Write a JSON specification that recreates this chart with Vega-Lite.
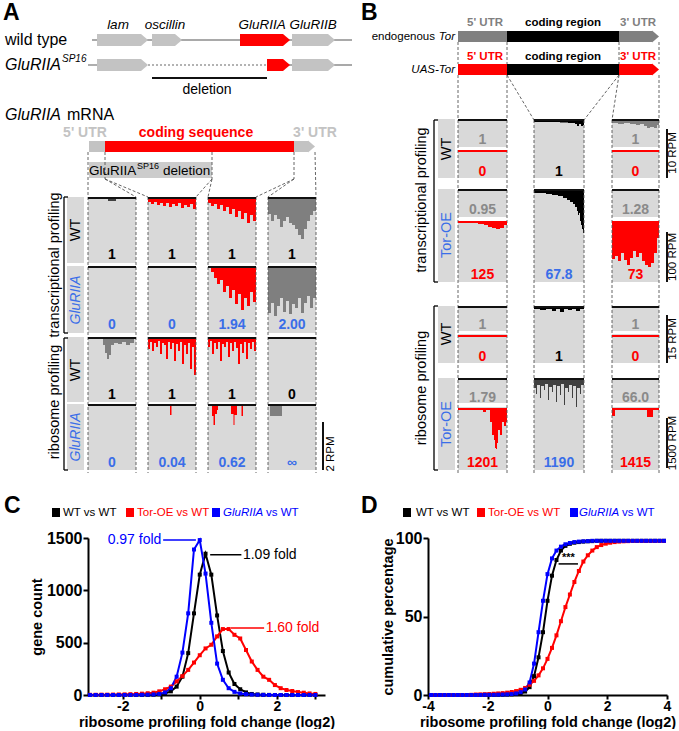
{
"$schema": "https://vega.github.io/schema/vega-lite/v6.json",
"padding": 0,
"background": "white",
"config": {
  "view": {"stroke": null},
  "font": "Liberation Sans",
  "axis": {"domainColor": "#000", "domainWidth": 2, "tickColor": "#000", "tickWidth": 2, "tickSize": 5, "grid": false,
    "labelFont": "Liberation Sans", "labelFontSize": 16, "labelFontWeight": "bold", "labelColor": "#000", "labelPadding": 1,
    "titleFont": "Liberation Sans", "titleFontSize": 14.5, "titleFontWeight": "bold", "titleColor": "#000"}
},
"datasets": {
  "shapes": [
    {"x":97,"x2":141,"y":34,"y2":46,"part":"gene"},
    {"x":152,"x2":175,"y":34,"y2":46,"part":"gene"},
    {"x":240,"x2":283,"y":34,"y2":46,"part":"mutgene"},
    {"x":292,"x2":328,"y":34,"y2":46,"part":"gene"},
    {"x":97,"x2":141,"y":59,"y2":71,"part":"gene"},
    {"x":267,"x2":283,"y":59,"y2":71,"part":"mutgene"},
    {"x":292,"x2":328,"y":59,"y2":71,"part":"gene"},
    {"x":89,"x2":105,"y":141,"y2":152,"part":"utr"},
    {"x":105,"x2":294,"y":141,"y2":152,"part":"cds"},
    {"x":294,"x2":308,"y":141,"y2":152,"part":"utr"},
    {"x":89,"x2":212,"y":162,"y2":178,"part":"delbox"},
    {"x":458,"x2":507,"y":31,"y2":42,"part":"torutr"},
    {"x":507,"x2":619,"y":31,"y2":42,"part":"torcds"},
    {"x":619,"x2":652,"y":31,"y2":42,"part":"torutr"},
    {"x":458,"x2":507,"y":64,"y2":75,"part":"uasutr"},
    {"x":507,"x2":619,"y":64,"y2":75,"part":"torcds"},
    {"x":619,"x2":652,"y":64,"y2":75,"part":"uasutr"},
    {"x":88,"x2":136,"y":197,"y2":263,"part":"cell"},
    {"x":148,"x2":196,"y":197,"y2":263,"part":"cell"},
    {"x":208,"x2":256,"y":197,"y2":263,"part":"cell"},
    {"x":268,"x2":316,"y":197,"y2":263,"part":"cell"},
    {"x":88,"x2":136,"y":266,"y2":333,"part":"cell"},
    {"x":148,"x2":196,"y":266,"y2":333,"part":"cell"},
    {"x":208,"x2":256,"y":266,"y2":333,"part":"cell"},
    {"x":268,"x2":316,"y":266,"y2":333,"part":"cell"},
    {"x":88,"x2":136,"y":337,"y2":402,"part":"cell"},
    {"x":148,"x2":196,"y":337,"y2":402,"part":"cell"},
    {"x":208,"x2":256,"y":337,"y2":402,"part":"cell"},
    {"x":268,"x2":316,"y":337,"y2":402,"part":"cell"},
    {"x":88,"x2":136,"y":404,"y2":470,"part":"cell"},
    {"x":148,"x2":196,"y":404,"y2":470,"part":"cell"},
    {"x":208,"x2":256,"y":404,"y2":470,"part":"cell"},
    {"x":268,"x2":316,"y":404,"y2":470,"part":"cell"},
    {"x":67,"x2":84,"y":197,"y2":263,"part":"rowlabel"},
    {"x":67,"x2":84,"y":266,"y2":333,"part":"rowlabel"},
    {"x":67,"x2":84,"y":337,"y2":402,"part":"rowlabel"},
    {"x":67,"x2":84,"y":404,"y2":470,"part":"rowlabel"},
    {"x":458,"x2":507,"y":119,"y2":178,"part":"cell"},
    {"x":534,"x2":584,"y":119,"y2":178,"part":"cell"},
    {"x":612,"x2":659,"y":119,"y2":178,"part":"cell"},
    {"x":458,"x2":507,"y":189,"y2":282,"part":"cell"},
    {"x":534,"x2":584,"y":189,"y2":282,"part":"cell"},
    {"x":612,"x2":659,"y":189,"y2":282,"part":"cell"},
    {"x":458,"x2":507,"y":306,"y2":363,"part":"cell"},
    {"x":534,"x2":584,"y":306,"y2":363,"part":"cell"},
    {"x":612,"x2":659,"y":306,"y2":363,"part":"cell"},
    {"x":458,"x2":507,"y":378,"y2":470,"part":"cell"},
    {"x":534,"x2":584,"y":378,"y2":470,"part":"cell"},
    {"x":612,"x2":659,"y":378,"y2":470,"part":"cell"},
    {"x":438,"x2":455,"y":119,"y2":178,"part":"rowlabel"},
    {"x":438,"x2":455,"y":189,"y2":282,"part":"rowlabel"},
    {"x":438,"x2":455,"y":306,"y2":363,"part":"rowlabel"},
    {"x":438,"x2":455,"y":378,"y2":470,"part":"rowlabel"},
    {"x":458,"x2":507,"y":147,"y2":150,"part":"gap"},
    {"x":612,"x2":659,"y":147,"y2":150,"part":"gap"},
    {"x":458,"x2":507,"y":217,"y2":221,"part":"gap"},
    {"x":612,"x2":659,"y":217,"y2":221,"part":"gap"},
    {"x":458,"x2":507,"y":331,"y2":334,"part":"gap"},
    {"x":612,"x2":659,"y":331,"y2":334,"part":"gap"},
    {"x":458,"x2":507,"y":403,"y2":407,"part":"gap"},
    {"x":612,"x2":659,"y":403,"y2":407,"part":"gap"},
    {"x":52,"x2":60,"y":508,"y2":517,"part":"wt"},
    {"x":126,"x2":134,"y":508,"y2":517,"part":"tor"},
    {"x":212,"x2":220,"y":508,"y2":517,"part":"glu"},
    {"x":403,"x2":411,"y":508,"y2":517,"part":"wt"},
    {"x":477,"x2":485,"y":508,"y2":517,"part":"tor"},
    {"x":570,"x2":578,"y":508,"y2":517,"part":"glu"}
  ],
  "tips": [
    {"x":141,"y":40,"part":"gene"},{"x":175,"y":40,"part":"gene"},{"x":283,"y":40,"part":"mutgene"},{"x":328,"y":40,"part":"gene"},
    {"x":141,"y":65,"part":"gene"},{"x":283,"y":65,"part":"mutgene"},{"x":328,"y":65,"part":"gene"},
    {"x":308,"y":146.5,"part":"utr"},{"x":652,"y":36.5,"part":"torutr"},{"x":652,"y":69.5,"part":"uasutr"}
  ],
  "cov": [
    {"id":"a11","part":"covdark","x":108,"y":199,"y2":201},{"id":"a11","part":"covdark","x":116,"y":199,"y2":201},
    {"id":"a12","part":"covred","x":148,"y":199,"y2":202},{"id":"a12","part":"covred","x":151,"y":199,"y2":204},{"id":"a12","part":"covred","x":154,"y":199,"y2":202},{"id":"a12","part":"covred","x":157,"y":199,"y2":205},{"id":"a12","part":"covred","x":160,"y":199,"y2":203},{"id":"a12","part":"covred","x":163,"y":199,"y2":206},{"id":"a12","part":"covred","x":166,"y":199,"y2":203},{"id":"a12","part":"covred","x":169,"y":199,"y2":207},{"id":"a12","part":"covred","x":172,"y":199,"y2":204},{"id":"a12","part":"covred","x":175,"y":199,"y2":206},{"id":"a12","part":"covred","x":178,"y":199,"y2":203},{"id":"a12","part":"covred","x":181,"y":199,"y2":208},{"id":"a12","part":"covred","x":184,"y":199,"y2":205},{"id":"a12","part":"covred","x":187,"y":199,"y2":207},{"id":"a12","part":"covred","x":190,"y":199,"y2":204},{"id":"a12","part":"covred","x":193,"y":199,"y2":209},{"id":"a12","part":"covred","x":196,"y":199,"y2":206},
    {"id":"a13","part":"covred","x":208,"y":199,"y2":203},{"id":"a13","part":"covred","x":211,"y":199,"y2":206},{"id":"a13","part":"covred","x":214,"y":199,"y2":204},{"id":"a13","part":"covred","x":217,"y":199,"y2":209},{"id":"a13","part":"covred","x":220,"y":199,"y2":205},{"id":"a13","part":"covred","x":223,"y":199,"y2":211},{"id":"a13","part":"covred","x":226,"y":199,"y2":207},{"id":"a13","part":"covred","x":229,"y":199,"y2":214},{"id":"a13","part":"covred","x":232,"y":199,"y2":209},{"id":"a13","part":"covred","x":235,"y":199,"y2":217},{"id":"a13","part":"covred","x":238,"y":199,"y2":211},{"id":"a13","part":"covred","x":241,"y":199,"y2":219},{"id":"a13","part":"covred","x":244,"y":199,"y2":213},{"id":"a13","part":"covred","x":247,"y":199,"y2":223},{"id":"a13","part":"covred","x":250,"y":199,"y2":215},{"id":"a13","part":"covred","x":253,"y":199,"y2":221},{"id":"a13","part":"covred","x":256,"y":199,"y2":209},
    {"id":"a14","part":"covgray","x":268,"y":199,"y2":214},{"id":"a14","part":"covgray","x":271,"y":199,"y2":221},{"id":"a14","part":"covgray","x":274,"y":199,"y2":215},{"id":"a14","part":"covgray","x":277,"y":199,"y2":219},{"id":"a14","part":"covgray","x":280,"y":199,"y2":227},{"id":"a14","part":"covgray","x":283,"y":199,"y2":221},{"id":"a14","part":"covgray","x":286,"y":199,"y2":217},{"id":"a14","part":"covgray","x":289,"y":199,"y2":223},{"id":"a14","part":"covgray","x":292,"y":199,"y2":225},{"id":"a14","part":"covgray","x":295,"y":199,"y2":229},{"id":"a14","part":"covgray","x":298,"y":199,"y2":235},{"id":"a14","part":"covgray","x":301,"y":199,"y2":239},{"id":"a14","part":"covgray","x":304,"y":199,"y2":229},{"id":"a14","part":"covgray","x":307,"y":199,"y2":221},{"id":"a14","part":"covgray","x":310,"y":199,"y2":215},{"id":"a14","part":"covgray","x":313,"y":199,"y2":211},{"id":"a14","part":"covgray","x":316,"y":199,"y2":207},
    {"id":"a23","part":"covred","x":208,"y":268,"y2":268},{"id":"a23","part":"covred","x":211,"y":268,"y2":272},{"id":"a23","part":"covred","x":214,"y":268,"y2":278},{"id":"a23","part":"covred","x":217,"y":268,"y2":284},{"id":"a23","part":"covred","x":220,"y":268,"y2":280},{"id":"a23","part":"covred","x":223,"y":268,"y2":292},{"id":"a23","part":"covred","x":226,"y":268,"y2":286},{"id":"a23","part":"covred","x":229,"y":268,"y2":298},{"id":"a23","part":"covred","x":232,"y":268,"y2":290},{"id":"a23","part":"covred","x":235,"y":268,"y2":304},{"id":"a23","part":"covred","x":238,"y":268,"y2":294},{"id":"a23","part":"covred","x":241,"y":268,"y2":310},{"id":"a23","part":"covred","x":244,"y":268,"y2":298},{"id":"a23","part":"covred","x":247,"y":268,"y2":306},{"id":"a23","part":"covred","x":250,"y":268,"y2":292},{"id":"a23","part":"covred","x":253,"y":268,"y2":302},{"id":"a23","part":"covred","x":256,"y":268,"y2":288},
    {"id":"a24","part":"covgray","x":268,"y":268,"y2":313},{"id":"a24","part":"covgray","x":271,"y":268,"y2":303},{"id":"a24","part":"covgray","x":274,"y":268,"y2":316},{"id":"a24","part":"covgray","x":277,"y":268,"y2":306},{"id":"a24","part":"covgray","x":280,"y":268,"y2":298},{"id":"a24","part":"covgray","x":283,"y":268,"y2":312},{"id":"a24","part":"covgray","x":286,"y":268,"y2":301},{"id":"a24","part":"covgray","x":289,"y":268,"y2":314},{"id":"a24","part":"covgray","x":292,"y":268,"y2":304},{"id":"a24","part":"covgray","x":295,"y":268,"y2":308},{"id":"a24","part":"covgray","x":298,"y":268,"y2":298},{"id":"a24","part":"covgray","x":301,"y":268,"y2":313},{"id":"a24","part":"covgray","x":304,"y":268,"y2":303},{"id":"a24","part":"covgray","x":307,"y":268,"y2":296},{"id":"a24","part":"covgray","x":310,"y":268,"y2":308},{"id":"a24","part":"covgray","x":313,"y":268,"y2":298},{"id":"a24","part":"covgray","x":316,"y":268,"y2":288},
    {"id":"a31","part":"covgray","x":103,"y":339,"y2":345},{"id":"a31","part":"covgray","x":105,"y":339,"y2":353},{"id":"a31","part":"covgray","x":107,"y":339,"y2":359},{"id":"a31","part":"covgray","x":109,"y":339,"y2":355},{"id":"a31","part":"covgray","x":111,"y":339,"y2":345},{"id":"a31","part":"covgray","x":114,"y":339,"y2":343},{"id":"a31","part":"covgray","x":118,"y":339,"y2":344},{"id":"a31","part":"covgray","x":122,"y":339,"y2":342},{"id":"a31","part":"covgray","x":126,"y":339,"y2":345},{"id":"a31","part":"covgray","x":130,"y":339,"y2":343},{"id":"a31","part":"covgray","x":134,"y":339,"y2":341},
    {"id":"a32","part":"covred","x":148,"y":339,"y2":349},{"id":"a32","part":"covred","x":150,"y":339,"y2":342},{"id":"a32","part":"covred","x":152,"y":339,"y2":351},{"id":"a32","part":"covred","x":154,"y":339,"y2":343},{"id":"a32","part":"covred","x":156,"y":339,"y2":347},{"id":"a32","part":"covred","x":158,"y":339,"y2":341},{"id":"a32","part":"covred","x":160,"y":339,"y2":354},{"id":"a32","part":"covred","x":162,"y":339,"y2":343},{"id":"a32","part":"covred","x":164,"y":339,"y2":345},{"id":"a32","part":"covred","x":166,"y":339,"y2":359},{"id":"a32","part":"covred","x":168,"y":339,"y2":342},{"id":"a32","part":"covred","x":170,"y":339,"y2":349},{"id":"a32","part":"covred","x":172,"y":339,"y2":343},{"id":"a32","part":"covred","x":174,"y":339,"y2":361},{"id":"a32","part":"covred","x":176,"y":339,"y2":344},{"id":"a32","part":"covred","x":178,"y":339,"y2":351},{"id":"a32","part":"covred","x":180,"y":339,"y2":342},{"id":"a32","part":"covred","x":182,"y":339,"y2":364},{"id":"a32","part":"covred","x":184,"y":339,"y2":345},{"id":"a32","part":"covred","x":186,"y":339,"y2":354},{"id":"a32","part":"covred","x":188,"y":339,"y2":343},{"id":"a32","part":"covred","x":190,"y":339,"y2":369},{"id":"a32","part":"covred","x":192,"y":339,"y2":347},{"id":"a32","part":"covred","x":194,"y":339,"y2":375},{"id":"a32","part":"covred","x":196,"y":339,"y2":349},
    {"id":"a33","part":"covred","x":208,"y":339,"y2":347},{"id":"a33","part":"covred","x":210,"y":339,"y2":341},{"id":"a33","part":"covred","x":212,"y":339,"y2":354},{"id":"a33","part":"covred","x":214,"y":339,"y2":343},{"id":"a33","part":"covred","x":216,"y":339,"y2":349},{"id":"a33","part":"covred","x":218,"y":339,"y2":342},{"id":"a33","part":"covred","x":220,"y":339,"y2":361},{"id":"a33","part":"covred","x":222,"y":339,"y2":344},{"id":"a33","part":"covred","x":224,"y":339,"y2":347},{"id":"a33","part":"covred","x":226,"y":339,"y2":342},{"id":"a33","part":"covred","x":228,"y":339,"y2":357},{"id":"a33","part":"covred","x":230,"y":339,"y2":343},{"id":"a33","part":"covred","x":232,"y":339,"y2":351},{"id":"a33","part":"covred","x":234,"y":339,"y2":342},{"id":"a33","part":"covred","x":236,"y":339,"y2":348},{"id":"a33","part":"covred","x":238,"y":339,"y2":364},{"id":"a33","part":"covred","x":240,"y":339,"y2":344},{"id":"a33","part":"covred","x":242,"y":339,"y2":353},{"id":"a33","part":"covred","x":244,"y":339,"y2":342},{"id":"a33","part":"covred","x":246,"y":339,"y2":359},{"id":"a33","part":"covred","x":248,"y":339,"y2":343},{"id":"a33","part":"covred","x":250,"y":339,"y2":349},{"id":"a33","part":"covred","x":252,"y":339,"y2":342},{"id":"a33","part":"covred","x":254,"y":339,"y2":351},{"id":"a33","part":"covred","x":256,"y":339,"y2":344},
    {"id":"a42","part":"covred","x":170,"y":406,"y2":415},{"id":"a42","part":"covred","x":171.5,"y":406,"y2":415},
    {"id":"a43a","part":"covred","x":212,"y":406,"y2":416},{"id":"a43a","part":"covred","x":213.5,"y":406,"y2":425},{"id":"a43a","part":"covred","x":215,"y":406,"y2":414},{"id":"a43a","part":"covred","x":217,"y":406,"y2":410},{"id":"a43a","part":"covred","x":218,"y":406,"y2":406},
    {"id":"a43b","part":"covred","x":231,"y":406,"y2":414},{"id":"a43b","part":"covred","x":233.5,"y":406,"y2":425},{"id":"a43b","part":"covred","x":234.5,"y":406,"y2":415},{"id":"a43b","part":"covred","x":237,"y":406,"y2":406},
    {"id":"a43c","part":"covred","x":241.5,"y":406,"y2":416},{"id":"a43c","part":"covred","x":243,"y":406,"y2":406},
    {"id":"a44","part":"covgray","x":270,"y":406,"y2":416},{"id":"a44","part":"covgray","x":282,"y":406,"y2":416},
    {"id":"b12","part":"covblack","x":534,"y":121,"y2":122},{"id":"b12","part":"covblack","x":550,"y":121,"y2":122},{"id":"b12","part":"covblack","x":560,"y":121,"y2":122.5},{"id":"b12","part":"covblack","x":568,"y":121,"y2":123},{"id":"b12","part":"covblack","x":572,"y":121,"y2":123},{"id":"b12","part":"covblack","x":575,"y":121,"y2":124},{"id":"b12","part":"covblack","x":577,"y":121,"y2":126},{"id":"b12","part":"covblack","x":579,"y":121,"y2":124},{"id":"b12","part":"covblack","x":581,"y":121,"y2":126},{"id":"b12","part":"covblack","x":583,"y":121,"y2":125},{"id":"b12","part":"covblack","x":584,"y":121,"y2":123},
    {"id":"b13","part":"covgray","x":612,"y":121,"y2":123},{"id":"b13","part":"covgray","x":618,"y":121,"y2":124},{"id":"b13","part":"covgray","x":624,"y":121,"y2":123},{"id":"b13","part":"covgray","x":630,"y":121,"y2":124},{"id":"b13","part":"covgray","x":636,"y":121,"y2":125},{"id":"b13","part":"covgray","x":640,"y":121,"y2":124},{"id":"b13","part":"covgray","x":644,"y":121,"y2":126},{"id":"b13","part":"covgray","x":647,"y":121,"y2":128},{"id":"b13","part":"covgray","x":650,"y":121,"y2":127},{"id":"b13","part":"covgray","x":654,"y":121,"y2":128},{"id":"b13","part":"covgray","x":657,"y":121,"y2":125},{"id":"b13","part":"covgray","x":659,"y":121,"y2":124},
    {"id":"b21","part":"covred","x":470,"y":223,"y2":223},{"id":"b21","part":"covred","x":478,"y":223,"y2":224},{"id":"b21","part":"covred","x":484,"y":223,"y2":225},{"id":"b21","part":"covred","x":488,"y":223,"y2":227},{"id":"b21","part":"covred","x":492,"y":223,"y2":228},{"id":"b21","part":"covred","x":496,"y":223,"y2":229},{"id":"b21","part":"covred","x":500,"y":223,"y2":228},{"id":"b21","part":"covred","x":504,"y":223,"y2":225},{"id":"b21","part":"covred","x":507,"y":223,"y2":224},
    {"id":"b22","part":"covblack","x":534,"y":191,"y2":193},{"id":"b22","part":"covblack","x":540,"y":191,"y2":193},{"id":"b22","part":"covblack","x":546,"y":191,"y2":194},{"id":"b22","part":"covblack","x":552,"y":191,"y2":195},{"id":"b22","part":"covblack","x":558,"y":191,"y2":196},{"id":"b22","part":"covblack","x":563,"y":191,"y2":198},{"id":"b22","part":"covblack","x":567,"y":191,"y2":200},{"id":"b22","part":"covblack","x":570,"y":191,"y2":202},{"id":"b22","part":"covblack","x":573,"y":191,"y2":204},{"id":"b22","part":"covblack","x":575,"y":191,"y2":207},{"id":"b22","part":"covblack","x":577,"y":191,"y2":211},{"id":"b22","part":"covblack","x":578,"y":191,"y2":215},{"id":"b22","part":"covblack","x":579,"y":191,"y2":213},{"id":"b22","part":"covblack","x":580,"y":191,"y2":221},{"id":"b22","part":"covblack","x":581,"y":191,"y2":225},{"id":"b22","part":"covblack","x":582,"y":191,"y2":229},{"id":"b22","part":"covblack","x":583,"y":191,"y2":233},{"id":"b22","part":"covblack","x":584,"y":191,"y2":226},
    {"id":"b23","part":"covred","x":612,"y":223,"y2":259},{"id":"b23","part":"covred","x":615,"y":223,"y2":256},{"id":"b23","part":"covred","x":618,"y":223,"y2":261},{"id":"b23","part":"covred","x":621,"y":223,"y2":253},{"id":"b23","part":"covred","x":624,"y":223,"y2":260},{"id":"b23","part":"covred","x":627,"y":223,"y2":265},{"id":"b23","part":"covred","x":630,"y":223,"y2":258},{"id":"b23","part":"covred","x":633,"y":223,"y2":251},{"id":"b23","part":"covred","x":636,"y":223,"y2":257},{"id":"b23","part":"covred","x":639,"y":223,"y2":253},{"id":"b23","part":"covred","x":642,"y":223,"y2":261},{"id":"b23","part":"covred","x":645,"y":223,"y2":265},{"id":"b23","part":"covred","x":648,"y":223,"y2":267},{"id":"b23","part":"covred","x":651,"y":223,"y2":263},{"id":"b23","part":"covred","x":654,"y":223,"y2":253},{"id":"b23","part":"covred","x":657,"y":223,"y2":238},{"id":"b23","part":"covred","x":659,"y":223,"y2":227},
    {"id":"b32","part":"covblack","x":534,"y":308,"y2":309},{"id":"b32","part":"covblack","x":540,"y":308,"y2":310},{"id":"b32","part":"covblack","x":546,"y":308,"y2":309},{"id":"b32","part":"covblack","x":552,"y":308,"y2":311},{"id":"b32","part":"covblack","x":556,"y":308,"y2":309},{"id":"b32","part":"covblack","x":560,"y":308,"y2":312},{"id":"b32","part":"covblack","x":564,"y":308,"y2":309},{"id":"b32","part":"covblack","x":568,"y":308,"y2":310},{"id":"b32","part":"covblack","x":572,"y":308,"y2":309},{"id":"b32","part":"covblack","x":576,"y":308,"y2":311},{"id":"b32","part":"covblack","x":580,"y":308,"y2":309},{"id":"b32","part":"covblack","x":584,"y":308,"y2":309},
    {"id":"b42","part":"covdark","x":534,"y":380,"y2":388},{"id":"b42","part":"covdark","x":536,"y":380,"y2":394},{"id":"b42","part":"covdark","x":537,"y":380,"y2":385},{"id":"b42","part":"covdark","x":540,"y":380,"y2":398},{"id":"b42","part":"covdark","x":541,"y":380,"y2":386},{"id":"b42","part":"covdark","x":544,"y":380,"y2":390},{"id":"b42","part":"covdark","x":545,"y":380,"y2":384},{"id":"b42","part":"covdark","x":548,"y":380,"y2":400},{"id":"b42","part":"covdark","x":549,"y":380,"y2":387},{"id":"b42","part":"covdark","x":552,"y":380,"y2":392},{"id":"b42","part":"covdark","x":553,"y":380,"y2":385},{"id":"b42","part":"covdark","x":556,"y":380,"y2":402},{"id":"b42","part":"covdark","x":557,"y":380,"y2":386},{"id":"b42","part":"covdark","x":560,"y":380,"y2":395},{"id":"b42","part":"covdark","x":561,"y":380,"y2":384},{"id":"b42","part":"covdark","x":564,"y":380,"y2":405},{"id":"b42","part":"covdark","x":565,"y":380,"y2":388},{"id":"b42","part":"covdark","x":568,"y":380,"y2":392},{"id":"b42","part":"covdark","x":569,"y":380,"y2":385},{"id":"b42","part":"covdark","x":572,"y":380,"y2":398},{"id":"b42","part":"covdark","x":573,"y":380,"y2":386},{"id":"b42","part":"covdark","x":576,"y":380,"y2":407},{"id":"b42","part":"covdark","x":577,"y":380,"y2":388},{"id":"b42","part":"covdark","x":580,"y":380,"y2":394},{"id":"b42","part":"covdark","x":581,"y":380,"y2":385},{"id":"b42","part":"covdark","x":584,"y":380,"y2":390},
    {"id":"b41","part":"covred","x":480,"y":410,"y2":410},{"id":"b41","part":"covred","x":483,"y":410,"y2":412},{"id":"b41","part":"covred","x":486,"y":410,"y2":410},{"id":"b41","part":"covred","x":489,"y":410,"y2":410},{"id":"b41","part":"covred","x":490,"y":410,"y2":422},{"id":"b41","part":"covred","x":492,"y":410,"y2":435},{"id":"b41","part":"covred","x":494,"y":410,"y2":440},{"id":"b41","part":"covred","x":495,"y":410,"y2":448},{"id":"b41","part":"covred","x":496,"y":410,"y2":449},{"id":"b41","part":"covred","x":497,"y":410,"y2":443},{"id":"b41","part":"covred","x":498,"y":410,"y2":430},{"id":"b41","part":"covred","x":500,"y":410,"y2":435},{"id":"b41","part":"covred","x":502,"y":410,"y2":422},{"id":"b41","part":"covred","x":504,"y":410,"y2":426},{"id":"b41","part":"covred","x":506,"y":410,"y2":422},{"id":"b41","part":"covred","x":507,"y":410,"y2":420},
    {"id":"b43a","part":"covred","x":612,"y":410,"y2":416},{"id":"b43a","part":"covred","x":615,"y":410,"y2":416},
    {"id":"b43b","part":"covred","x":647,"y":410,"y2":417},{"id":"b43b","part":"covred","x":653,"y":410,"y2":417}
  ],
  "lines": [
    {"style":"genome","x":92,"y":40,"x2":352,"y2":40},
    {"style":"genome","x":88,"y":65,"x2":97,"y2":65},
    {"style":"genome","x":283,"y":65,"x2":352,"y2":65},
    {"style":"dotted","x":148,"y":65,"x2":267,"y2":65},
    {"style":"dash","x":88,"y":152,"x2":88,"y2":197},
    {"style":"dash","x":105,"y":152,"x2":105,"y2":179},
    {"style":"dash","x":105,"y":179,"x2":136,"y2":197},
    {"style":"dash","x":105,"y":179,"x2":148,"y2":197},
    {"style":"dash","x":212,"y":152,"x2":212,"y2":179},
    {"style":"dash","x":212,"y":179,"x2":196,"y2":197},
    {"style":"dash","x":212,"y":179,"x2":208,"y2":197},
    {"style":"dash","x":294,"y":152,"x2":294,"y2":179},
    {"style":"dash","x":294,"y":179,"x2":256,"y2":197},
    {"style":"dash","x":294,"y":179,"x2":268,"y2":197},
    {"style":"dash","x":315,"y":152,"x2":316,"y2":197},
    {"style":"dash","x":88,"y":197,"x2":88,"y2":473},
    {"style":"dash","x":136,"y":197,"x2":136,"y2":473},
    {"style":"dash","x":148,"y":197,"x2":148,"y2":473},
    {"style":"dash","x":196,"y":197,"x2":196,"y2":473},
    {"style":"dash","x":208,"y":197,"x2":208,"y2":473},
    {"style":"dash","x":256,"y":197,"x2":256,"y2":473},
    {"style":"dash","x":268,"y":197,"x2":268,"y2":473},
    {"style":"dash","x":316,"y":197,"x2":316,"y2":473},
    {"style":"dash","x":458,"y":42,"x2":458,"y2":64},
    {"style":"dash","x":507,"y":42,"x2":507,"y2":64},
    {"style":"dash","x":619,"y":42,"x2":619,"y2":64},
    {"style":"dash","x":659,"y":42,"x2":659,"y2":64},
    {"style":"dash","x":458,"y":75,"x2":458,"y2":473},
    {"style":"dash","x":507,"y":75,"x2":507,"y2":473},
    {"style":"dash","x":659,"y":75,"x2":659,"y2":473},
    {"style":"dash","x":507,"y":75,"x2":534,"y2":120},
    {"style":"dash","x":619,"y":75,"x2":584,"y2":120},
    {"style":"dash","x":619,"y":75,"x2":612,"y2":120},
    {"style":"dash","x":534,"y":120,"x2":534,"y2":473},
    {"style":"dash","x":584,"y":120,"x2":584,"y2":473},
    {"style":"dash","x":612,"y":120,"x2":612,"y2":473},
    {"style":"edge","x":88,"y":198,"x2":136,"y2":198},{"style":"edge","x":148,"y":198,"x2":196,"y2":198},{"style":"edge","x":208,"y":198,"x2":256,"y2":198},{"style":"edge","x":268,"y":198,"x2":316,"y2":198},
    {"style":"edge","x":88,"y":267,"x2":136,"y2":267},{"style":"edge","x":148,"y":267,"x2":196,"y2":267},{"style":"edge","x":208,"y":267,"x2":256,"y2":267},{"style":"edge","x":268,"y":267,"x2":316,"y2":267},
    {"style":"edge","x":88,"y":338,"x2":136,"y2":338},{"style":"edge","x":148,"y":338,"x2":196,"y2":338},{"style":"edge","x":208,"y":338,"x2":256,"y2":338},{"style":"edge","x":268,"y":338,"x2":316,"y2":338},
    {"style":"edge","x":88,"y":405,"x2":136,"y2":405},{"style":"edge","x":148,"y":405,"x2":196,"y2":405},{"style":"edge","x":208,"y":405,"x2":256,"y2":405},{"style":"edge","x":268,"y":405,"x2":316,"y2":405},
    {"style":"edge","x":458,"y":120,"x2":507,"y2":120},{"style":"edge","x":534,"y":120,"x2":584,"y2":120},{"style":"edge","x":612,"y":120,"x2":659,"y2":120},
    {"style":"edge","x":458,"y":190,"x2":507,"y2":190},{"style":"edge","x":534,"y":190,"x2":584,"y2":190},{"style":"edge","x":612,"y":190,"x2":659,"y2":190},
    {"style":"edge","x":458,"y":307,"x2":507,"y2":307},{"style":"edge","x":534,"y":307,"x2":584,"y2":307},{"style":"edge","x":612,"y":307,"x2":659,"y2":307},
    {"style":"edge","x":458,"y":379,"x2":507,"y2":379},{"style":"edge","x":534,"y":379,"x2":584,"y2":379},{"style":"edge","x":612,"y":379,"x2":659,"y2":379},
    {"style":"edge","x":152,"y":78,"x2":267,"y2":78},
    {"style":"edge","x":323,"y":422,"x2":323,"y2":470},
    {"style":"edge","x":667,"y":129,"x2":667,"y2":178},
    {"style":"edge","x":667,"y":232,"x2":667,"y2":282},
    {"style":"edge","x":667,"y":315,"x2":667,"y2":363},
    {"style":"edge","x":667,"y":418,"x2":667,"y2":468},
    {"style":"red","x":458,"y":151,"x2":507,"y2":151},{"style":"red","x":612,"y":151,"x2":659,"y2":151},
    {"style":"red","x":458,"y":222,"x2":507,"y2":222},{"style":"red","x":612,"y":222,"x2":659,"y2":222},
    {"style":"red","x":458,"y":336,"x2":507,"y2":336},{"style":"red","x":612,"y":336,"x2":659,"y2":336},
    {"style":"red","x":458,"y":409,"x2":507,"y2":409},{"style":"red","x":612,"y":409,"x2":659,"y2":409},
    {"style":"bracket","x":64,"y":197,"x2":64,"y2":333},{"style":"bracket","x":64,"y":197,"x2":68,"y2":197},{"style":"bracket","x":64,"y":333,"x2":68,"y2":333},
    {"style":"bracket","x":64,"y":338,"x2":64,"y2":470},{"style":"bracket","x":64,"y":338,"x2":68,"y2":338},{"style":"bracket","x":64,"y":470,"x2":68,"y2":470},
    {"style":"bracket","x":434,"y":120,"x2":434,"y2":282},{"style":"bracket","x":434,"y":120,"x2":438,"y2":120},{"style":"bracket","x":434,"y":282,"x2":438,"y2":282},
    {"style":"bracket","x":434,"y":306,"x2":434,"y2":470},{"style":"bracket","x":434,"y":306,"x2":438,"y2":306},{"style":"bracket","x":434,"y":470,"x2":438,"y2":470}
  ],
  "labels": [
    {"role":"letter","x":3,"y":20,"text":"A","part":"ink"},
    {"role":"letter","x":361,"y":20,"text":"B","part":"ink"},
    {"role":"letter","x":4,"y":513,"text":"C","part":"ink"},
    {"role":"letter","x":361,"y":513,"text":"D","part":"ink"},
    {"role":"hdr","x":85,"y":133,"text":"5' UTR","part":"utrA"},
    {"role":"hdr","x":196,"y":133,"text":"coding sequence","part":"transgene"},
    {"role":"hdr","x":315,"y":133,"text":"3' UTR","part":"utrA"},
    {"role":"hdrB","x":485,"y":23,"text":"5' UTR","part":"utrB"},
    {"role":"hdrB","x":563,"y":23,"text":"coding region","part":"ink"},
    {"role":"hdrB","x":638,"y":23,"text":"3' UTR","part":"utrB"},
    {"role":"hdrB","x":485,"y":57,"text":"5' UTR","part":"transgene"},
    {"role":"hdrB","x":563,"y":57,"text":"coding region","part":"ink"},
    {"role":"hdrB","x":638,"y":57,"text":"3' UTR","part":"transgene"},
    {"role":"gene","x":118,"y":25,"text":"lam","part":"ink"},
    {"role":"gene","x":165,"y":25,"text":"oscillin","part":"ink"},
    {"role":"gene","x":262,"y":25,"text":"GluRIIA","part":"ink"},
    {"role":"gene","x":313,"y":25,"text":"GluRIIB","part":"ink"},
    {"role":"big","x":5,"y":40,"text":"wild type","part":"ink"},
    {"role":"big","x":67,"y":115,"text":"mRNA","part":"ink"},
    {"role":"bigit","x":5,"y":65,"text":"GluRIIA","part":"ink"},
    {"role":"bigit","x":5,"y":115,"text":"GluRIIA","part":"ink"},
    {"role":"supit","x":62,"y":59,"text":"SP16","part":"ink"},
    {"role":"box","x":89,"y":171,"text":"GluRIIA","part":"ink"},
    {"role":"box","x":163,"y":171,"text":"deletion","part":"ink"},
    {"role":"sup","x":137,"y":166,"text":"SP16","part":"ink"},
    {"role":"mid","x":207,"y":90,"text":"deletion","part":"ink"},
    {"role":"torlab","x":435,"y":37,"text":"endogenous","part":"ink"},
    {"role":"torlabit","x":455,"y":37,"text":"Tor","part":"ink"},
    {"role":"torlabit","x":455,"y":70,"text":"UAS-Tor","part":"ink"},
    {"role":"num","x":112,"y":255,"text":"1","part":"ink"},
    {"role":"num","x":172,"y":255,"text":"1","part":"ink"},
    {"role":"num","x":232,"y":255,"text":"1","part":"ink"},
    {"role":"num","x":292,"y":255,"text":"1","part":"ink"},
    {"role":"num","x":112,"y":325,"text":"0","part":"mutant"},
    {"role":"num","x":172,"y":325,"text":"0","part":"mutant"},
    {"role":"num","x":232,"y":325,"text":"1.94","part":"mutant"},
    {"role":"num","x":292,"y":325,"text":"2.00","part":"mutant"},
    {"role":"num","x":112,"y":395,"text":"1","part":"ink"},
    {"role":"num","x":172,"y":395,"text":"1","part":"ink"},
    {"role":"num","x":232,"y":395,"text":"1","part":"ink"},
    {"role":"num","x":292,"y":395,"text":"0","part":"ink"},
    {"role":"num","x":112,"y":463,"text":"0","part":"mutant"},
    {"role":"num","x":172,"y":463,"text":"0.04","part":"mutant"},
    {"role":"num","x":232,"y":463,"text":"0.62","part":"mutant"},
    {"role":"num","x":292,"y":463,"text":"∞","part":"mutant"},
    {"role":"num","x":482.5,"y":140,"text":"1","part":"baseline"},
    {"role":"num","x":482.5,"y":172,"text":"0","part":"transgene"},
    {"role":"num","x":559,"y":172,"text":"1","part":"ink"},
    {"role":"num","x":635.5,"y":140,"text":"1","part":"baseline"},
    {"role":"num","x":635.5,"y":172,"text":"0","part":"transgene"},
    {"role":"num","x":482.5,"y":210,"text":"0.95","part":"baseline"},
    {"role":"num","x":482.5,"y":275,"text":"125","part":"transgene"},
    {"role":"num","x":559,"y":275,"text":"67.8","part":"mutant"},
    {"role":"num","x":635.5,"y":210,"text":"1.28","part":"baseline"},
    {"role":"num","x":635.5,"y":275,"text":"73","part":"transgene"},
    {"role":"num","x":482.5,"y":325,"text":"1","part":"baseline"},
    {"role":"num","x":482.5,"y":357,"text":"0","part":"transgene"},
    {"role":"num","x":559,"y":357,"text":"1","part":"ink"},
    {"role":"num","x":635.5,"y":325,"text":"1","part":"baseline"},
    {"role":"num","x":635.5,"y":357,"text":"0","part":"transgene"},
    {"role":"num","x":482.5,"y":398,"text":"1.79","part":"baseline"},
    {"role":"num","x":482.5,"y":463,"text":"1201","part":"transgene"},
    {"role":"num","x":559,"y":463,"text":"1190","part":"mutant"},
    {"role":"num","x":635.5,"y":398,"text":"66.0","part":"baseline"},
    {"role":"num","x":635.5,"y":463,"text":"1415","part":"transgene"},
    {"role":"row","x":75.5,"y":230,"text":"WT","part":"ink"},
    {"role":"row","x":75.5,"y":370,"text":"WT","part":"ink"},
    {"role":"row","x":447,"y":149,"text":"WT","part":"ink"},
    {"role":"row","x":447,"y":235,"text":"Tor-OE","part":"mutant"},
    {"role":"row","x":447,"y":334,"text":"WT","part":"ink"},
    {"role":"row","x":447,"y":424,"text":"Tor-OE","part":"mutant"},
    {"role":"row","x":55,"y":265,"text":"transcriptional profiling","part":"ink"},
    {"role":"row","x":55,"y":402,"text":"ribosome profiling","part":"ink"},
    {"role":"row","x":422,"y":200,"text":"transcriptional profiling","part":"ink"},
    {"role":"row","x":422,"y":388,"text":"ribosome profiling","part":"ink"},
    {"role":"rowit","x":75.5,"y":300,"text":"GluRIIA","part":"mutant"},
    {"role":"rowit","x":75.5,"y":437,"text":"GluRIIA","part":"mutant"},
    {"role":"scale","x":331,"y":454,"text":"2 RPM","part":"ink"},
    {"role":"scale","x":673,"y":153,"text":"10 RPM","part":"ink"},
    {"role":"scale","x":673,"y":257,"text":"100 RPM","part":"ink"},
    {"role":"scale","x":673,"y":339,"text":"15 RPM","part":"ink"},
    {"role":"scale","x":673,"y":443,"text":"1500 RPM","part":"ink"},
    {"role":"leg","x":63,"y":513,"text":"WT vs WT","part":"wt"},
    {"role":"leg","x":137,"y":513,"text":"Tor-OE vs WT","part":"tor"},
    {"role":"leg","x":266,"y":513,"text":"vs WT","part":"glu"},
    {"role":"leg","x":416,"y":513,"text":"WT vs WT","part":"wt"},
    {"role":"leg","x":488,"y":513,"text":"Tor-OE vs WT","part":"tor"},
    {"role":"leg","x":622,"y":513,"text":"vs WT","part":"glu"},
    {"role":"legit","x":223,"y":513,"text":"GluRIIA","part":"glu"},
    {"role":"legit","x":579,"y":513,"text":"GluRIIA","part":"glu"}
  ],
  "hist": [
    {"fc":-2.85,"genes":0,"series":"WT vs WT"},{"fc":-2.7,"genes":0,"series":"WT vs WT"},{"fc":-2.55,"genes":0,"series":"WT vs WT"},{"fc":-2.4,"genes":0,"series":"WT vs WT"},{"fc":-2.25,"genes":0,"series":"WT vs WT"},{"fc":-2.1,"genes":0,"series":"WT vs WT"},{"fc":-1.95,"genes":0,"series":"WT vs WT"},{"fc":-1.8,"genes":0,"series":"WT vs WT"},{"fc":-1.65,"genes":1,"series":"WT vs WT"},{"fc":-1.5,"genes":1,"series":"WT vs WT"},{"fc":-1.35,"genes":2,"series":"WT vs WT"},{"fc":-1.2,"genes":4,"series":"WT vs WT"},{"fc":-1.05,"genes":8,"series":"WT vs WT"},{"fc":-0.9,"genes":15,"series":"WT vs WT"},{"fc":-0.75,"genes":35,"series":"WT vs WT"},{"fc":-0.6,"genes":80,"series":"WT vs WT"},{"fc":-0.45,"genes":175,"series":"WT vs WT"},{"fc":-0.3,"genes":400,"series":"WT vs WT"},{"fc":-0.15,"genes":780,"series":"WT vs WT"},{"fc":0,"genes":1150,"series":"WT vs WT"},{"fc":0.15,"genes":1350,"series":"WT vs WT"},{"fc":0.3,"genes":1150,"series":"WT vs WT"},{"fc":0.45,"genes":760,"series":"WT vs WT"},{"fc":0.6,"genes":420,"series":"WT vs WT"},{"fc":0.75,"genes":215,"series":"WT vs WT"},{"fc":0.9,"genes":105,"series":"WT vs WT"},{"fc":1.05,"genes":55,"series":"WT vs WT"},{"fc":1.2,"genes":25,"series":"WT vs WT"},{"fc":1.35,"genes":10,"series":"WT vs WT"},{"fc":1.5,"genes":5,"series":"WT vs WT"},{"fc":1.65,"genes":2,"series":"WT vs WT"},{"fc":1.8,"genes":1,"series":"WT vs WT"},{"fc":1.95,"genes":0,"series":"WT vs WT"},{"fc":2.1,"genes":0,"series":"WT vs WT"},{"fc":2.25,"genes":0,"series":"WT vs WT"},{"fc":2.4,"genes":0,"series":"WT vs WT"},{"fc":2.55,"genes":0,"series":"WT vs WT"},{"fc":2.7,"genes":0,"series":"WT vs WT"},{"fc":2.85,"genes":0,"series":"WT vs WT"},{"fc":3.0,"genes":0,"series":"WT vs WT"},
    {"fc":-2.85,"genes":2,"series":"Tor-OE vs WT"},{"fc":-2.7,"genes":2,"series":"Tor-OE vs WT"},{"fc":-2.55,"genes":3,"series":"Tor-OE vs WT"},{"fc":-2.4,"genes":3,"series":"Tor-OE vs WT"},{"fc":-2.25,"genes":4,"series":"Tor-OE vs WT"},{"fc":-2.1,"genes":5,"series":"Tor-OE vs WT"},{"fc":-1.95,"genes":6,"series":"Tor-OE vs WT"},{"fc":-1.8,"genes":8,"series":"Tor-OE vs WT"},{"fc":-1.65,"genes":10,"series":"Tor-OE vs WT"},{"fc":-1.5,"genes":13,"series":"Tor-OE vs WT"},{"fc":-1.35,"genes":17,"series":"Tor-OE vs WT"},{"fc":-1.2,"genes":22,"series":"Tor-OE vs WT"},{"fc":-1.05,"genes":35,"series":"Tor-OE vs WT"},{"fc":-0.9,"genes":55,"series":"Tor-OE vs WT"},{"fc":-0.75,"genes":80,"series":"Tor-OE vs WT"},{"fc":-0.6,"genes":130,"series":"Tor-OE vs WT"},{"fc":-0.45,"genes":180,"series":"Tor-OE vs WT"},{"fc":-0.3,"genes":240,"series":"Tor-OE vs WT"},{"fc":-0.15,"genes":310,"series":"Tor-OE vs WT"},{"fc":0,"genes":380,"series":"Tor-OE vs WT"},{"fc":0.15,"genes":445,"series":"Tor-OE vs WT"},{"fc":0.3,"genes":480,"series":"Tor-OE vs WT"},{"fc":0.45,"genes":560,"series":"Tor-OE vs WT"},{"fc":0.6,"genes":630,"series":"Tor-OE vs WT"},{"fc":0.75,"genes":630,"series":"Tor-OE vs WT"},{"fc":0.9,"genes":575,"series":"Tor-OE vs WT"},{"fc":1.05,"genes":540,"series":"Tor-OE vs WT"},{"fc":1.2,"genes":430,"series":"Tor-OE vs WT"},{"fc":1.35,"genes":320,"series":"Tor-OE vs WT"},{"fc":1.5,"genes":240,"series":"Tor-OE vs WT"},{"fc":1.65,"genes":175,"series":"Tor-OE vs WT"},{"fc":1.8,"genes":145,"series":"Tor-OE vs WT"},{"fc":1.95,"genes":95,"series":"Tor-OE vs WT"},{"fc":2.1,"genes":65,"series":"Tor-OE vs WT"},{"fc":2.25,"genes":48,"series":"Tor-OE vs WT"},{"fc":2.4,"genes":38,"series":"Tor-OE vs WT"},{"fc":2.55,"genes":28,"series":"Tor-OE vs WT"},{"fc":2.7,"genes":22,"series":"Tor-OE vs WT"},{"fc":2.85,"genes":15,"series":"Tor-OE vs WT"},{"fc":3.0,"genes":10,"series":"Tor-OE vs WT"},
    {"fc":-2.85,"genes":0,"series":"GluRIIA vs WT"},{"fc":-2.7,"genes":0,"series":"GluRIIA vs WT"},{"fc":-2.55,"genes":0,"series":"GluRIIA vs WT"},{"fc":-2.4,"genes":0,"series":"GluRIIA vs WT"},{"fc":-2.25,"genes":0,"series":"GluRIIA vs WT"},{"fc":-2.1,"genes":0,"series":"GluRIIA vs WT"},{"fc":-1.95,"genes":0,"series":"GluRIIA vs WT"},{"fc":-1.8,"genes":0,"series":"GluRIIA vs WT"},{"fc":-1.65,"genes":1,"series":"GluRIIA vs WT"},{"fc":-1.5,"genes":2,"series":"GluRIIA vs WT"},{"fc":-1.35,"genes":3,"series":"GluRIIA vs WT"},{"fc":-1.2,"genes":5,"series":"GluRIIA vs WT"},{"fc":-1.05,"genes":10,"series":"GluRIIA vs WT"},{"fc":-0.9,"genes":25,"series":"GluRIIA vs WT"},{"fc":-0.75,"genes":65,"series":"GluRIIA vs WT"},{"fc":-0.6,"genes":175,"series":"GluRIIA vs WT"},{"fc":-0.45,"genes":405,"series":"GluRIIA vs WT"},{"fc":-0.3,"genes":780,"series":"GluRIIA vs WT"},{"fc":-0.15,"genes":1390,"series":"GluRIIA vs WT"},{"fc":0,"genes":1480,"series":"GluRIIA vs WT"},{"fc":0.15,"genes":1160,"series":"GluRIIA vs WT"},{"fc":0.3,"genes":690,"series":"GluRIIA vs WT"},{"fc":0.45,"genes":300,"series":"GluRIIA vs WT"},{"fc":0.6,"genes":145,"series":"GluRIIA vs WT"},{"fc":0.75,"genes":65,"series":"GluRIIA vs WT"},{"fc":0.9,"genes":30,"series":"GluRIIA vs WT"},{"fc":1.05,"genes":15,"series":"GluRIIA vs WT"},{"fc":1.2,"genes":8,"series":"GluRIIA vs WT"},{"fc":1.35,"genes":4,"series":"GluRIIA vs WT"},{"fc":1.5,"genes":2,"series":"GluRIIA vs WT"},{"fc":1.65,"genes":1,"series":"GluRIIA vs WT"},{"fc":1.8,"genes":0,"series":"GluRIIA vs WT"},{"fc":1.95,"genes":0,"series":"GluRIIA vs WT"},{"fc":2.1,"genes":0,"series":"GluRIIA vs WT"},{"fc":2.25,"genes":0,"series":"GluRIIA vs WT"},{"fc":2.4,"genes":0,"series":"GluRIIA vs WT"},{"fc":2.55,"genes":0,"series":"GluRIIA vs WT"},{"fc":2.7,"genes":0,"series":"GluRIIA vs WT"},{"fc":2.85,"genes":0,"series":"GluRIIA vs WT"},{"fc":3.0,"genes":0,"series":"GluRIIA vs WT"}
  ],
  "cum": [
    {"fc":-3.9,"pct":0,"series":"WT vs WT"},{"fc":-3.75,"pct":0,"series":"WT vs WT"},{"fc":-3.6,"pct":0,"series":"WT vs WT"},{"fc":-3.45,"pct":0,"series":"WT vs WT"},{"fc":-3.3,"pct":0,"series":"WT vs WT"},{"fc":-3.15,"pct":0,"series":"WT vs WT"},{"fc":-3.0,"pct":0,"series":"WT vs WT"},{"fc":-2.85,"pct":0,"series":"WT vs WT"},{"fc":-2.7,"pct":0,"series":"WT vs WT"},{"fc":-2.55,"pct":0,"series":"WT vs WT"},{"fc":-2.4,"pct":0,"series":"WT vs WT"},{"fc":-2.25,"pct":0,"series":"WT vs WT"},{"fc":-2.1,"pct":0.1,"series":"WT vs WT"},{"fc":-1.95,"pct":0.1,"series":"WT vs WT"},{"fc":-1.8,"pct":0.1,"series":"WT vs WT"},{"fc":-1.65,"pct":0.2,"series":"WT vs WT"},{"fc":-1.5,"pct":0.2,"series":"WT vs WT"},{"fc":-1.35,"pct":0.3,"series":"WT vs WT"},{"fc":-1.2,"pct":0.4,"series":"WT vs WT"},{"fc":-1.05,"pct":0.6,"series":"WT vs WT"},{"fc":-0.9,"pct":1.0,"series":"WT vs WT"},{"fc":-0.75,"pct":2.2,"series":"WT vs WT"},{"fc":-0.6,"pct":5,"series":"WT vs WT"},{"fc":-0.45,"pct":12,"series":"WT vs WT"},{"fc":-0.3,"pct":24,"series":"WT vs WT"},{"fc":-0.15,"pct":40,"series":"WT vs WT"},{"fc":0,"pct":60,"series":"WT vs WT"},{"fc":0.15,"pct":76,"series":"WT vs WT"},{"fc":0.3,"pct":86,"series":"WT vs WT"},{"fc":0.45,"pct":92,"series":"WT vs WT"},{"fc":0.6,"pct":95,"series":"WT vs WT"},{"fc":0.75,"pct":96.3,"series":"WT vs WT"},{"fc":0.9,"pct":97,"series":"WT vs WT"},{"fc":1.05,"pct":97.4,"series":"WT vs WT"},{"fc":1.2,"pct":97.7,"series":"WT vs WT"},{"fc":1.35,"pct":97.9,"series":"WT vs WT"},{"fc":1.5,"pct":98.0,"series":"WT vs WT"},{"fc":1.65,"pct":98.2,"series":"WT vs WT"},{"fc":1.8,"pct":98.2,"series":"WT vs WT"},{"fc":1.95,"pct":98.2,"series":"WT vs WT"},{"fc":2.1,"pct":98.2,"series":"WT vs WT"},{"fc":2.25,"pct":98.2,"series":"WT vs WT"},{"fc":2.4,"pct":98.2,"series":"WT vs WT"},{"fc":2.55,"pct":98.2,"series":"WT vs WT"},{"fc":2.7,"pct":98.2,"series":"WT vs WT"},{"fc":2.85,"pct":98.2,"series":"WT vs WT"},{"fc":3.0,"pct":98.2,"series":"WT vs WT"},{"fc":3.15,"pct":98.2,"series":"WT vs WT"},{"fc":3.3,"pct":98.2,"series":"WT vs WT"},{"fc":3.45,"pct":98.2,"series":"WT vs WT"},{"fc":3.6,"pct":98.2,"series":"WT vs WT"},{"fc":3.75,"pct":98.2,"series":"WT vs WT"},{"fc":3.9,"pct":98.2,"series":"WT vs WT"},
    {"fc":-3.9,"pct":0,"series":"Tor-OE vs WT"},{"fc":-3.75,"pct":0,"series":"Tor-OE vs WT"},{"fc":-3.6,"pct":0,"series":"Tor-OE vs WT"},{"fc":-3.45,"pct":0,"series":"Tor-OE vs WT"},{"fc":-3.3,"pct":0,"series":"Tor-OE vs WT"},{"fc":-3.15,"pct":0,"series":"Tor-OE vs WT"},{"fc":-3.0,"pct":0,"series":"Tor-OE vs WT"},{"fc":-2.85,"pct":0,"series":"Tor-OE vs WT"},{"fc":-2.7,"pct":0,"series":"Tor-OE vs WT"},{"fc":-2.55,"pct":0.1,"series":"Tor-OE vs WT"},{"fc":-2.4,"pct":0.3,"series":"Tor-OE vs WT"},{"fc":-2.25,"pct":0.4,"series":"Tor-OE vs WT"},{"fc":-2.1,"pct":0.5,"series":"Tor-OE vs WT"},{"fc":-1.95,"pct":0.6,"series":"Tor-OE vs WT"},{"fc":-1.8,"pct":0.8,"series":"Tor-OE vs WT"},{"fc":-1.65,"pct":1.0,"series":"Tor-OE vs WT"},{"fc":-1.5,"pct":1.2,"series":"Tor-OE vs WT"},{"fc":-1.35,"pct":1.5,"series":"Tor-OE vs WT"},{"fc":-1.2,"pct":1.9,"series":"Tor-OE vs WT"},{"fc":-1.05,"pct":2.5,"series":"Tor-OE vs WT"},{"fc":-0.9,"pct":3.3,"series":"Tor-OE vs WT"},{"fc":-0.75,"pct":4.5,"series":"Tor-OE vs WT"},{"fc":-0.6,"pct":6.5,"series":"Tor-OE vs WT"},{"fc":-0.45,"pct":9,"series":"Tor-OE vs WT"},{"fc":-0.3,"pct":12.5,"series":"Tor-OE vs WT"},{"fc":-0.15,"pct":17,"series":"Tor-OE vs WT"},{"fc":0,"pct":23,"series":"Tor-OE vs WT"},{"fc":0.15,"pct":30,"series":"Tor-OE vs WT"},{"fc":0.3,"pct":38,"series":"Tor-OE vs WT"},{"fc":0.45,"pct":47,"series":"Tor-OE vs WT"},{"fc":0.6,"pct":56,"series":"Tor-OE vs WT"},{"fc":0.75,"pct":64,"series":"Tor-OE vs WT"},{"fc":0.9,"pct":72,"series":"Tor-OE vs WT"},{"fc":1.05,"pct":79,"series":"Tor-OE vs WT"},{"fc":1.2,"pct":85,"series":"Tor-OE vs WT"},{"fc":1.35,"pct":89,"series":"Tor-OE vs WT"},{"fc":1.5,"pct":92,"series":"Tor-OE vs WT"},{"fc":1.65,"pct":94.2,"series":"Tor-OE vs WT"},{"fc":1.8,"pct":95.5,"series":"Tor-OE vs WT"},{"fc":1.95,"pct":96.4,"series":"Tor-OE vs WT"},{"fc":2.1,"pct":97.0,"series":"Tor-OE vs WT"},{"fc":2.25,"pct":97.4,"series":"Tor-OE vs WT"},{"fc":2.4,"pct":97.7,"series":"Tor-OE vs WT"},{"fc":2.55,"pct":97.9,"series":"Tor-OE vs WT"},{"fc":2.7,"pct":98.0,"series":"Tor-OE vs WT"},{"fc":2.85,"pct":98.1,"series":"Tor-OE vs WT"},{"fc":3.0,"pct":98.1,"series":"Tor-OE vs WT"},{"fc":3.15,"pct":98.1,"series":"Tor-OE vs WT"},{"fc":3.3,"pct":98.1,"series":"Tor-OE vs WT"},{"fc":3.45,"pct":98.1,"series":"Tor-OE vs WT"},{"fc":3.6,"pct":98.1,"series":"Tor-OE vs WT"},{"fc":3.75,"pct":98.1,"series":"Tor-OE vs WT"},{"fc":3.9,"pct":98.1,"series":"Tor-OE vs WT"},
    {"fc":-3.9,"pct":0,"series":"GluRIIA vs WT"},{"fc":-3.75,"pct":0,"series":"GluRIIA vs WT"},{"fc":-3.6,"pct":0,"series":"GluRIIA vs WT"},{"fc":-3.45,"pct":0,"series":"GluRIIA vs WT"},{"fc":-3.3,"pct":0,"series":"GluRIIA vs WT"},{"fc":-3.15,"pct":0,"series":"GluRIIA vs WT"},{"fc":-3.0,"pct":0,"series":"GluRIIA vs WT"},{"fc":-2.85,"pct":0,"series":"GluRIIA vs WT"},{"fc":-2.7,"pct":0,"series":"GluRIIA vs WT"},{"fc":-2.55,"pct":0,"series":"GluRIIA vs WT"},{"fc":-2.4,"pct":0,"series":"GluRIIA vs WT"},{"fc":-2.25,"pct":0,"series":"GluRIIA vs WT"},{"fc":-2.1,"pct":0.1,"series":"GluRIIA vs WT"},{"fc":-1.95,"pct":0.1,"series":"GluRIIA vs WT"},{"fc":-1.8,"pct":0.1,"series":"GluRIIA vs WT"},{"fc":-1.65,"pct":0.2,"series":"GluRIIA vs WT"},{"fc":-1.5,"pct":0.3,"series":"GluRIIA vs WT"},{"fc":-1.35,"pct":0.4,"series":"GluRIIA vs WT"},{"fc":-1.2,"pct":0.6,"series":"GluRIIA vs WT"},{"fc":-1.05,"pct":1.0,"series":"GluRIIA vs WT"},{"fc":-0.9,"pct":1.8,"series":"GluRIIA vs WT"},{"fc":-0.75,"pct":3.5,"series":"GluRIIA vs WT"},{"fc":-0.6,"pct":8,"series":"GluRIIA vs WT"},{"fc":-0.45,"pct":20,"series":"GluRIIA vs WT"},{"fc":-0.3,"pct":40,"series":"GluRIIA vs WT"},{"fc":-0.15,"pct":60,"series":"GluRIIA vs WT"},{"fc":0,"pct":77,"series":"GluRIIA vs WT"},{"fc":0.15,"pct":87,"series":"GluRIIA vs WT"},{"fc":0.3,"pct":92,"series":"GluRIIA vs WT"},{"fc":0.45,"pct":94.5,"series":"GluRIIA vs WT"},{"fc":0.6,"pct":96,"series":"GluRIIA vs WT"},{"fc":0.75,"pct":96.8,"series":"GluRIIA vs WT"},{"fc":0.9,"pct":97.4,"series":"GluRIIA vs WT"},{"fc":1.05,"pct":97.7,"series":"GluRIIA vs WT"},{"fc":1.2,"pct":97.9,"series":"GluRIIA vs WT"},{"fc":1.35,"pct":98.0,"series":"GluRIIA vs WT"},{"fc":1.5,"pct":98.2,"series":"GluRIIA vs WT"},{"fc":1.65,"pct":98.2,"series":"GluRIIA vs WT"},{"fc":1.8,"pct":98.2,"series":"GluRIIA vs WT"},{"fc":1.95,"pct":98.2,"series":"GluRIIA vs WT"},{"fc":2.1,"pct":98.2,"series":"GluRIIA vs WT"},{"fc":2.25,"pct":98.2,"series":"GluRIIA vs WT"},{"fc":2.4,"pct":98.2,"series":"GluRIIA vs WT"},{"fc":2.55,"pct":98.2,"series":"GluRIIA vs WT"},{"fc":2.7,"pct":98.2,"series":"GluRIIA vs WT"},{"fc":2.85,"pct":98.2,"series":"GluRIIA vs WT"},{"fc":3.0,"pct":98.2,"series":"GluRIIA vs WT"},{"fc":3.15,"pct":98.2,"series":"GluRIIA vs WT"},{"fc":3.3,"pct":98.2,"series":"GluRIIA vs WT"},{"fc":3.45,"pct":98.2,"series":"GluRIIA vs WT"},{"fc":3.6,"pct":98.2,"series":"GluRIIA vs WT"},{"fc":3.75,"pct":98.2,"series":"GluRIIA vs WT"},{"fc":3.9,"pct":98.2,"series":"GluRIIA vs WT"}
  ],
  "cnoteRule": [
    {"x":-0.95,"x2":-0.1,"y":1480,"series":"GluRIIA vs WT"},
    {"x":0.27,"x2":1.08,"y":1340,"series":"WT vs WT"},
    {"x":0.81,"x2":1.67,"y":640,"series":"Tor-OE vs WT"}
  ],
  "cnoteText": [
    {"x":-2.39,"y":1480,"label":"0.97 fold","series":"GluRIIA vs WT"},
    {"x":1.12,"y":1340,"label":"1.09 fold","series":"WT vs WT"},
    {"x":1.71,"y":640,"label":"1.60 fold","series":"Tor-OE vs WT"}
  ],
  "dnote": [
    {"x":0.37,"x2":1.02,"y":83.5,"lx":0.7,"ly":87.5,"label":"***"}
  ]
},
"spacing": 68,
"bounds": "flush",
"resolve": {"scale": {"color": "independent"}},
"vconcat": [
  {
    "width": 679, "height": 470,
    "layer": [
      {"data": {"name": "lines"}, "transform": [{"filter": "datum.style === 'genome'"}],
       "mark": {"type": "rule", "color": "#8c8c8c", "strokeWidth": 1.4},
       "encoding": {"x": {"field":"x","type":"quantitative","scale":{"domain":[0,679],"nice":false,"zero":false},"axis":null}, "y": {"field":"y","type":"quantitative","scale":{"domain":[0,470],"nice":false,"zero":false,"reverse":true},"axis":null}, "x2": {"field":"x2"}, "y2": {"field":"y2"}}},
      {"data": {"name": "lines"}, "transform": [{"filter": "datum.style === 'dotted'"}],
       "mark": {"type": "rule", "color": "#9a9a9a", "strokeWidth": 1.6, "strokeDash": [2, 2]},
       "encoding": {"x": {"field":"x","type":"quantitative","scale":{"domain":[0,679],"nice":false,"zero":false},"axis":null}, "y": {"field":"y","type":"quantitative","scale":{"domain":[0,470],"nice":false,"zero":false,"reverse":true},"axis":null}, "x2": {"field":"x2"}, "y2": {"field":"y2"}}},
      {"data": {"name": "shapes"},
       "mark": {"type": "rect", "opacity": 1},
       "encoding": {"x": {"field":"x","type":"quantitative","scale":{"domain":[0,679],"nice":false,"zero":false},"axis":null}, "y": {"field":"y","type":"quantitative","scale":{"domain":[0,470],"nice":false,"zero":false,"reverse":true},"axis":null}, "x2": {"field":"x2"}, "y2": {"field":"y2"},
         "color": {"field":"part","type":"nominal","legend":null,"scale":{"domain":["cell","rowlabel","gene","mutgene","utr","cds","delbox","torutr","torcds","uasutr","gap","wt","tor","glu","covred","covgray","covblack","covdark","ink","mutant","transgene","baseline","utrA","utrB"],"range":["#d9d9d9","#d9d9d9","#c3c3c3","#ff0000","#c3c3c3","#ff0000","#cccccc","#808080","#000000","#ff0000","#ffffff","#000000","#ff0000","#0000ff","#ff0000","#7f7f7f","#000000","#404040","#000000","#3a6ee8","#ff0000","#8a8a8a","#c3c3c3","#808080"]}}}},
      {"data": {"name": "tips"},
       "mark": {"type": "point", "shape": "M0,-1L1.17,0L0,1Z", "size": 144, "filled": true, "opacity": 1, "strokeWidth": 0},
       "encoding": {"x": {"field":"x","type":"quantitative","scale":{"domain":[0,679],"nice":false,"zero":false},"axis":null}, "y": {"field":"y","type":"quantitative","scale":{"domain":[0,470],"nice":false,"zero":false,"reverse":true},"axis":null},
         "color": {"field":"part","type":"nominal","legend":null,"scale":{"domain":["cell","rowlabel","gene","mutgene","utr","cds","delbox","torutr","torcds","uasutr","gap","wt","tor","glu","covred","covgray","covblack","covdark","ink","mutant","transgene","baseline","utrA","utrB"],"range":["#d9d9d9","#d9d9d9","#c3c3c3","#ff0000","#c3c3c3","#ff0000","#cccccc","#808080","#000000","#ff0000","#ffffff","#000000","#ff0000","#0000ff","#ff0000","#7f7f7f","#000000","#404040","#000000","#3a6ee8","#ff0000","#8a8a8a","#c3c3c3","#808080"]}}}},
      {"data": {"name": "cov"},
       "mark": {"type": "area", "opacity": 1, "interpolate": "step-after"},
       "encoding": {"x": {"field":"x","type":"quantitative","scale":{"domain":[0,679],"nice":false,"zero":false},"axis":null}, "y": {"field":"y","type":"quantitative","scale":{"domain":[0,470],"nice":false,"zero":false,"reverse":true},"axis":null}, "y2": {"field":"y2"}, "detail": {"field":"id","type":"nominal"},
         "color": {"field":"part","type":"nominal","legend":null,"scale":{"domain":["cell","rowlabel","gene","mutgene","utr","cds","delbox","torutr","torcds","uasutr","gap","wt","tor","glu","covred","covgray","covblack","covdark","ink","mutant","transgene","baseline","utrA","utrB"],"range":["#d9d9d9","#d9d9d9","#c3c3c3","#ff0000","#c3c3c3","#ff0000","#cccccc","#808080","#000000","#ff0000","#ffffff","#000000","#ff0000","#0000ff","#ff0000","#7f7f7f","#000000","#404040","#000000","#3a6ee8","#ff0000","#8a8a8a","#c3c3c3","#808080"]}}}},
      {"data": {"name": "lines"}, "transform": [{"filter": "datum.style === 'dash'"}],
       "mark": {"type": "rule", "color": "#555555", "strokeWidth": 0.9, "strokeDash": [3, 2]},
       "encoding": {"x": {"field":"x","type":"quantitative","scale":{"domain":[0,679],"nice":false,"zero":false},"axis":null}, "y": {"field":"y","type":"quantitative","scale":{"domain":[0,470],"nice":false,"zero":false,"reverse":true},"axis":null}, "x2": {"field":"x2"}, "y2": {"field":"y2"}}},
      {"data": {"name": "lines"}, "transform": [{"filter": "datum.style === 'edge'"}],
       "mark": {"type": "rule", "color": "#111111", "strokeWidth": 2},
       "encoding": {"x": {"field":"x","type":"quantitative","scale":{"domain":[0,679],"nice":false,"zero":false},"axis":null}, "y": {"field":"y","type":"quantitative","scale":{"domain":[0,470],"nice":false,"zero":false,"reverse":true},"axis":null}, "x2": {"field":"x2"}, "y2": {"field":"y2"}}},
      {"data": {"name": "lines"}, "transform": [{"filter": "datum.style === 'red'"}],
       "mark": {"type": "rule", "color": "#ff0000", "strokeWidth": 2},
       "encoding": {"x": {"field":"x","type":"quantitative","scale":{"domain":[0,679],"nice":false,"zero":false},"axis":null}, "y": {"field":"y","type":"quantitative","scale":{"domain":[0,470],"nice":false,"zero":false,"reverse":true},"axis":null}, "x2": {"field":"x2"}, "y2": {"field":"y2"}}},
      {"data": {"name": "lines"}, "transform": [{"filter": "datum.style === 'bracket'"}],
       "mark": {"type": "rule", "color": "#000000", "strokeWidth": 1.3},
       "encoding": {"x": {"field":"x","type":"quantitative","scale":{"domain":[0,679],"nice":false,"zero":false},"axis":null}, "y": {"field":"y","type":"quantitative","scale":{"domain":[0,470],"nice":false,"zero":false,"reverse":true},"axis":null}, "x2": {"field":"x2"}, "y2": {"field":"y2"}}},
      {"data": {"name": "labels"}, "transform": [{"filter": "datum.role === 'letter'"}],
       "mark": {"type": "text", "fontSize": 23, "fontWeight": "bold", "align": "left", "baseline": "alphabetic", "color": "#000000"},
       "encoding": {"x": {"field":"x","type":"quantitative","scale":{"domain":[0,679],"nice":false,"zero":false},"axis":null}, "y": {"field":"y","type":"quantitative","scale":{"domain":[0,470],"nice":false,"zero":false,"reverse":true},"axis":null}, "text": {"field":"text"}}},
      {"data": {"name": "labels"}, "transform": [{"filter": "datum.role === 'hdr'"}],
       "mark": {"type": "text", "fontSize": 14, "fontWeight": "bold", "align": "center", "baseline": "middle"},
       "encoding": {"x": {"field":"x","type":"quantitative","scale":{"domain":[0,679],"nice":false,"zero":false},"axis":null}, "y": {"field":"y","type":"quantitative","scale":{"domain":[0,470],"nice":false,"zero":false,"reverse":true},"axis":null}, "text": {"field":"text"},
         "color": {"field":"part","type":"nominal","legend":null,"scale":{"domain":["cell","rowlabel","gene","mutgene","utr","cds","delbox","torutr","torcds","uasutr","gap","wt","tor","glu","covred","covgray","covblack","covdark","ink","mutant","transgene","baseline","utrA","utrB"],"range":["#d9d9d9","#d9d9d9","#c3c3c3","#ff0000","#c3c3c3","#ff0000","#cccccc","#808080","#000000","#ff0000","#ffffff","#000000","#ff0000","#0000ff","#ff0000","#7f7f7f","#000000","#404040","#000000","#3a6ee8","#ff0000","#8a8a8a","#c3c3c3","#808080"]}}}},
      {"data": {"name": "labels"}, "transform": [{"filter": "datum.role === 'hdrB'"}],
       "mark": {"type": "text", "fontSize": 11.5, "fontWeight": "bold", "align": "center", "baseline": "middle"},
       "encoding": {"x": {"field":"x","type":"quantitative","scale":{"domain":[0,679],"nice":false,"zero":false},"axis":null}, "y": {"field":"y","type":"quantitative","scale":{"domain":[0,470],"nice":false,"zero":false,"reverse":true},"axis":null}, "text": {"field":"text"},
         "color": {"field":"part","type":"nominal","legend":null,"scale":{"domain":["cell","rowlabel","gene","mutgene","utr","cds","delbox","torutr","torcds","uasutr","gap","wt","tor","glu","covred","covgray","covblack","covdark","ink","mutant","transgene","baseline","utrA","utrB"],"range":["#d9d9d9","#d9d9d9","#c3c3c3","#ff0000","#c3c3c3","#ff0000","#cccccc","#808080","#000000","#ff0000","#ffffff","#000000","#ff0000","#0000ff","#ff0000","#7f7f7f","#000000","#404040","#000000","#3a6ee8","#ff0000","#8a8a8a","#c3c3c3","#808080"]}}}},
      {"data": {"name": "labels"}, "transform": [{"filter": "datum.role === 'gene'"}],
       "mark": {"type": "text", "fontSize": 13.5, "fontStyle": "italic", "align": "center", "baseline": "middle", "color": "#000000"},
       "encoding": {"x": {"field":"x","type":"quantitative","scale":{"domain":[0,679],"nice":false,"zero":false},"axis":null}, "y": {"field":"y","type":"quantitative","scale":{"domain":[0,470],"nice":false,"zero":false,"reverse":true},"axis":null}, "text": {"field":"text"}}},
      {"data": {"name": "labels"}, "transform": [{"filter": "datum.role === 'big'"}],
       "mark": {"type": "text", "fontSize": 16, "align": "left", "baseline": "middle", "color": "#000000"},
       "encoding": {"x": {"field":"x","type":"quantitative","scale":{"domain":[0,679],"nice":false,"zero":false},"axis":null}, "y": {"field":"y","type":"quantitative","scale":{"domain":[0,470],"nice":false,"zero":false,"reverse":true},"axis":null}, "text": {"field":"text"}}},
      {"data": {"name": "labels"}, "transform": [{"filter": "datum.role === 'bigit'"}],
       "mark": {"type": "text", "fontSize": 16, "fontStyle": "italic", "align": "left", "baseline": "middle", "color": "#000000"},
       "encoding": {"x": {"field":"x","type":"quantitative","scale":{"domain":[0,679],"nice":false,"zero":false},"axis":null}, "y": {"field":"y","type":"quantitative","scale":{"domain":[0,470],"nice":false,"zero":false,"reverse":true},"axis":null}, "text": {"field":"text"}}},
      {"data": {"name": "labels"}, "transform": [{"filter": "datum.role === 'supit'"}],
       "mark": {"type": "text", "fontSize": 10, "fontStyle": "italic", "align": "left", "baseline": "middle", "color": "#000000"},
       "encoding": {"x": {"field":"x","type":"quantitative","scale":{"domain":[0,679],"nice":false,"zero":false},"axis":null}, "y": {"field":"y","type":"quantitative","scale":{"domain":[0,470],"nice":false,"zero":false,"reverse":true},"axis":null}, "text": {"field":"text"}}},
      {"data": {"name": "labels"}, "transform": [{"filter": "datum.role === 'box'"}],
       "mark": {"type": "text", "fontSize": 13.5, "align": "left", "baseline": "middle", "color": "#000000"},
       "encoding": {"x": {"field":"x","type":"quantitative","scale":{"domain":[0,679],"nice":false,"zero":false},"axis":null}, "y": {"field":"y","type":"quantitative","scale":{"domain":[0,470],"nice":false,"zero":false,"reverse":true},"axis":null}, "text": {"field":"text"}}},
      {"data": {"name": "labels"}, "transform": [{"filter": "datum.role === 'sup'"}],
       "mark": {"type": "text", "fontSize": 9, "align": "left", "baseline": "middle", "color": "#000000"},
       "encoding": {"x": {"field":"x","type":"quantitative","scale":{"domain":[0,679],"nice":false,"zero":false},"axis":null}, "y": {"field":"y","type":"quantitative","scale":{"domain":[0,470],"nice":false,"zero":false,"reverse":true},"axis":null}, "text": {"field":"text"}}},
      {"data": {"name": "labels"}, "transform": [{"filter": "datum.role === 'mid'"}],
       "mark": {"type": "text", "fontSize": 14, "align": "center", "baseline": "middle", "color": "#000000"},
       "encoding": {"x": {"field":"x","type":"quantitative","scale":{"domain":[0,679],"nice":false,"zero":false},"axis":null}, "y": {"field":"y","type":"quantitative","scale":{"domain":[0,470],"nice":false,"zero":false,"reverse":true},"axis":null}, "text": {"field":"text"}}},
      {"data": {"name": "labels"}, "transform": [{"filter": "datum.role === 'torlab'"}],
       "mark": {"type": "text", "fontSize": 11.5, "align": "right", "baseline": "middle", "color": "#000000"},
       "encoding": {"x": {"field":"x","type":"quantitative","scale":{"domain":[0,679],"nice":false,"zero":false},"axis":null}, "y": {"field":"y","type":"quantitative","scale":{"domain":[0,470],"nice":false,"zero":false,"reverse":true},"axis":null}, "text": {"field":"text"}}},
      {"data": {"name": "labels"}, "transform": [{"filter": "datum.role === 'torlabit'"}],
       "mark": {"type": "text", "fontSize": 11.5, "fontStyle": "italic", "align": "right", "baseline": "middle", "color": "#000000"},
       "encoding": {"x": {"field":"x","type":"quantitative","scale":{"domain":[0,679],"nice":false,"zero":false},"axis":null}, "y": {"field":"y","type":"quantitative","scale":{"domain":[0,470],"nice":false,"zero":false,"reverse":true},"axis":null}, "text": {"field":"text"}}},
      {"data": {"name": "labels"}, "transform": [{"filter": "datum.role === 'num'"}],
       "mark": {"type": "text", "fontSize": 14, "fontWeight": "bold", "align": "center", "baseline": "middle"},
       "encoding": {"x": {"field":"x","type":"quantitative","scale":{"domain":[0,679],"nice":false,"zero":false},"axis":null}, "y": {"field":"y","type":"quantitative","scale":{"domain":[0,470],"nice":false,"zero":false,"reverse":true},"axis":null}, "text": {"field":"text"},
         "color": {"field":"part","type":"nominal","legend":null,"scale":{"domain":["cell","rowlabel","gene","mutgene","utr","cds","delbox","torutr","torcds","uasutr","gap","wt","tor","glu","covred","covgray","covblack","covdark","ink","mutant","transgene","baseline","utrA","utrB"],"range":["#d9d9d9","#d9d9d9","#c3c3c3","#ff0000","#c3c3c3","#ff0000","#cccccc","#808080","#000000","#ff0000","#ffffff","#000000","#ff0000","#0000ff","#ff0000","#7f7f7f","#000000","#404040","#000000","#3a6ee8","#ff0000","#8a8a8a","#c3c3c3","#808080"]}}}},
      {"data": {"name": "labels"}, "transform": [{"filter": "datum.role === 'row'"}],
       "mark": {"type": "text", "fontSize": 14.5, "align": "center", "baseline": "middle", "angle": 270},
       "encoding": {"x": {"field":"x","type":"quantitative","scale":{"domain":[0,679],"nice":false,"zero":false},"axis":null}, "y": {"field":"y","type":"quantitative","scale":{"domain":[0,470],"nice":false,"zero":false,"reverse":true},"axis":null}, "text": {"field":"text"},
         "color": {"field":"part","type":"nominal","legend":null,"scale":{"domain":["cell","rowlabel","gene","mutgene","utr","cds","delbox","torutr","torcds","uasutr","gap","wt","tor","glu","covred","covgray","covblack","covdark","ink","mutant","transgene","baseline","utrA","utrB"],"range":["#d9d9d9","#d9d9d9","#c3c3c3","#ff0000","#c3c3c3","#ff0000","#cccccc","#808080","#000000","#ff0000","#ffffff","#000000","#ff0000","#0000ff","#ff0000","#7f7f7f","#000000","#404040","#000000","#3a6ee8","#ff0000","#8a8a8a","#c3c3c3","#808080"]}}}},
      {"data": {"name": "labels"}, "transform": [{"filter": "datum.role === 'rowit'"}],
       "mark": {"type": "text", "fontSize": 14, "fontStyle": "italic", "align": "center", "baseline": "middle", "angle": 270, "color": "#3a6ee8"},
       "encoding": {"x": {"field":"x","type":"quantitative","scale":{"domain":[0,679],"nice":false,"zero":false},"axis":null}, "y": {"field":"y","type":"quantitative","scale":{"domain":[0,470],"nice":false,"zero":false,"reverse":true},"axis":null}, "text": {"field":"text"}}},
      {"data": {"name": "labels"}, "transform": [{"filter": "datum.role === 'scale'"}],
       "mark": {"type": "text", "fontSize": 11.5, "align": "center", "baseline": "middle", "angle": 270, "color": "#000000"},
       "encoding": {"x": {"field":"x","type":"quantitative","scale":{"domain":[0,679],"nice":false,"zero":false},"axis":null}, "y": {"field":"y","type":"quantitative","scale":{"domain":[0,470],"nice":false,"zero":false,"reverse":true},"axis":null}, "text": {"field":"text"}}},
      {"data": {"name": "labels"}, "transform": [{"filter": "datum.role === 'leg'"}],
       "mark": {"type": "text", "fontSize": 11.5, "align": "left", "baseline": "middle"},
       "encoding": {"x": {"field":"x","type":"quantitative","scale":{"domain":[0,679],"nice":false,"zero":false},"axis":null}, "y": {"field":"y","type":"quantitative","scale":{"domain":[0,470],"nice":false,"zero":false,"reverse":true},"axis":null}, "text": {"field":"text"},
         "color": {"field":"part","type":"nominal","legend":null,"scale":{"domain":["cell","rowlabel","gene","mutgene","utr","cds","delbox","torutr","torcds","uasutr","gap","wt","tor","glu","covred","covgray","covblack","covdark","ink","mutant","transgene","baseline","utrA","utrB"],"range":["#d9d9d9","#d9d9d9","#c3c3c3","#ff0000","#c3c3c3","#ff0000","#cccccc","#808080","#000000","#ff0000","#ffffff","#000000","#ff0000","#0000ff","#ff0000","#7f7f7f","#000000","#404040","#000000","#3a6ee8","#ff0000","#8a8a8a","#c3c3c3","#808080"]}}}},
      {"data": {"name": "labels"}, "transform": [{"filter": "datum.role === 'legit'"}],
       "mark": {"type": "text", "fontSize": 11.5, "fontStyle": "italic", "align": "left", "baseline": "middle", "color": "#0000ff"},
       "encoding": {"x": {"field":"x","type":"quantitative","scale":{"domain":[0,679],"nice":false,"zero":false},"axis":null}, "y": {"field":"y","type":"quantitative","scale":{"domain":[0,470],"nice":false,"zero":false,"reverse":true},"axis":null}, "text": {"field":"text"}}}
    ]
  },
  {
    "hconcat": [
      {"width": 88, "height": 157, "data": {"values": [{"t": ""}]}, "mark": {"type": "text", "text": ""}},
      {
        "width": 237, "height": 157,
        "layer": [
          {"data": {"name": "hist"},
           "mark": {"type": "line", "strokeWidth": 2, "point": {"shape": "square", "size": 16, "filled": true, "opacity": 1}},
           "encoding": {
             "x": {"field": "fc", "type": "quantitative", "scale": {"domain": [-2.9, 3.25], "nice": false, "zero": false},
                   "axis": {"values": [-2, -1, 0, 1, 2, 3], "labelExpr": "datum.value % 2 == 0 ? '' + datum.value : ''", "labelFlush": false, "labelOverlap": false, "labelFontSize": 14, "labelPadding": 0, "tickSize": 4, "title": "ribosome profiling fold change (log2)", "titlePadding": 2}},
             "y": {"field": "genes", "type": "quantitative", "scale": {"domain": [0, 1500], "nice": false},
                   "axis": {"values": [0, 500, 1000, 1500], "format": "d", "title": "gene count", "titlePadding": 2}},
             "color": {"field": "series", "type": "nominal", "legend": null, "scale": {"domain": ["WT vs WT", "Tor-OE vs WT", "GluRIIA vs WT"], "range": ["#000000", "#ff0000", "#0000ff"]}}
           }},
          {"data": {"name": "cnoteRule"},
           "mark": {"type": "rule", "strokeWidth": 1.5},
           "encoding": {
             "x": {"field": "x", "type": "quantitative", "scale": {"domain": [-2.9, 3.25], "nice": false, "zero": false}},
             "x2": {"field": "x2"},
             "y": {"field": "y", "type": "quantitative", "scale": {"domain": [0, 1500], "nice": false}},
             "color": {"field": "series", "type": "nominal", "legend": null, "scale": {"domain": ["WT vs WT", "Tor-OE vs WT", "GluRIIA vs WT"], "range": ["#000000", "#ff0000", "#0000ff"]}}
           }},
          {"data": {"name": "cnoteText"},
           "mark": {"type": "text", "fontSize": 14, "align": "left", "baseline": "middle"},
           "encoding": {
             "x": {"field": "x", "type": "quantitative", "scale": {"domain": [-2.9, 3.25], "nice": false, "zero": false}},
             "y": {"field": "y", "type": "quantitative", "scale": {"domain": [0, 1500], "nice": false}},
             "text": {"field": "label"},
             "color": {"field": "series", "type": "nominal", "legend": null, "scale": {"domain": ["WT vs WT", "Tor-OE vs WT", "GluRIIA vs WT"], "range": ["#000000", "#ff0000", "#0000ff"]}}
           }}
        ]
      },
      {"width": 103, "height": 157, "data": {"values": [{"t": ""}]}, "mark": {"type": "text", "text": ""}},
      {
        "width": 239, "height": 157,
        "layer": [
          {"data": {"name": "cum"},
           "mark": {"type": "line", "strokeWidth": 2, "point": {"shape": "square", "size": 16, "filled": true, "opacity": 1}},
           "encoding": {
             "x": {"field": "fc", "type": "quantitative", "scale": {"domain": [-4, 4], "nice": false, "zero": false},
                   "axis": {"values": [-4, -2, 0, 2, 4], "labelExpr": "'' + datum.value", "labelFlush": false, "labelOverlap": false, "labelFontSize": 14, "labelPadding": 0, "tickSize": 4, "title": "ribosome profiling fold change (log2)", "titlePadding": 2}},
             "y": {"field": "pct", "type": "quantitative", "scale": {"domain": [0, 100], "nice": false},
                   "axis": {"values": [0, 50, 100], "title": "cumulative percentage", "titlePadding": 0}},
             "color": {"field": "series", "type": "nominal", "legend": null, "scale": {"domain": ["WT vs WT", "Tor-OE vs WT", "GluRIIA vs WT"], "range": ["#000000", "#ff0000", "#0000ff"]}}
           }},
          {"data": {"name": "dnote"},
           "mark": {"type": "rule", "strokeWidth": 1.5, "color": "#000000"},
           "encoding": {
             "x": {"field": "x", "type": "quantitative", "scale": {"domain": [-4, 4], "nice": false, "zero": false}},
             "x2": {"field": "x2"},
             "y": {"field": "y", "type": "quantitative", "scale": {"domain": [0, 100], "nice": false}}
           }},
          {"data": {"name": "dnote"},
           "mark": {"type": "text", "fontSize": 11, "fontWeight": "bold", "align": "center", "baseline": "middle", "color": "#000000"},
           "encoding": {
             "x": {"field": "lx", "type": "quantitative", "scale": {"domain": [-4, 4], "nice": false, "zero": false}},
             "y": {"field": "ly", "type": "quantitative", "scale": {"domain": [0, 100], "nice": false}},
             "text": {"field": "label"}
           }}
        ]
      }
    ],
    "spacing": 0,
    "bounds": "flush"
  }
]
}
